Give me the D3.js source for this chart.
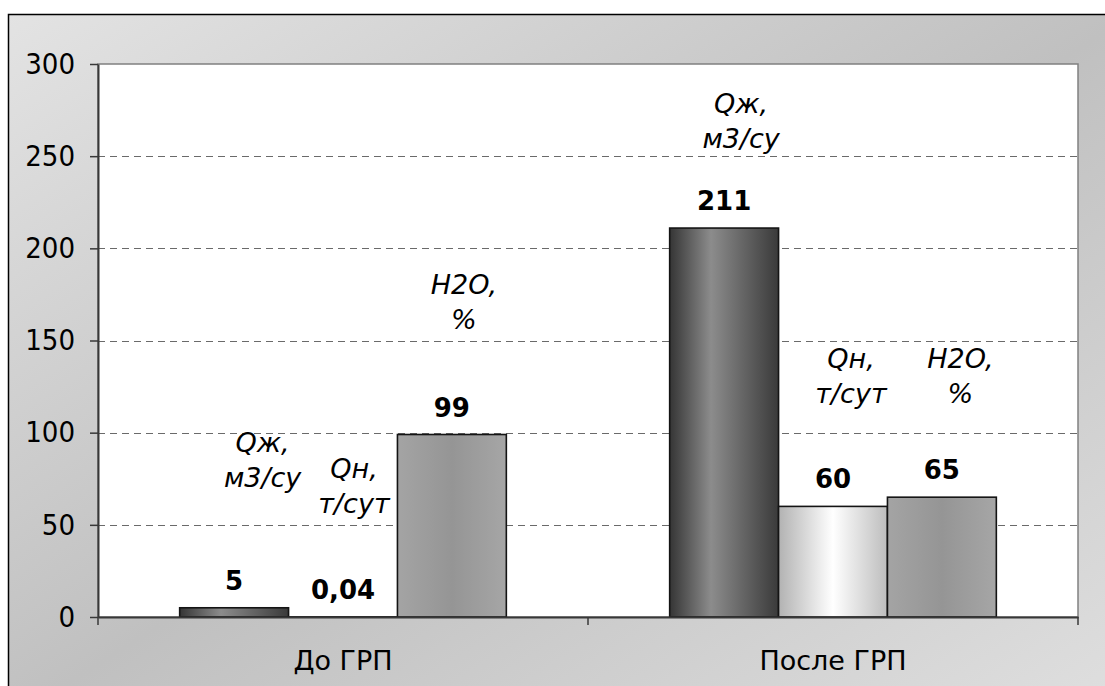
<!DOCTYPE html>
<html>
<head>
<meta charset="utf-8">
<script src="https://cdn.jsdelivr.net/npm/d3@7"></script>
<style>
  html, body { margin: 0; padding: 0; background: #ffffff; }
  svg { display: block; }
</style>
</head>
<body>
<svg id="chart" width="1105" height="686"></svg>
<script>
// Well production before and after hydraulic fracturing (ГРП)
const categories = ["До ГРП", "После ГРП"];
const seriesKeys = ["qLiquid", "qOil", "water"];
const seriesNames = [["Qж,", "м3/су"], ["Qн,", "т/сут"], ["H2O,", "%"]];
const qLiquid = [5, 211];   // Qж, м3/сут
const qOil = [0.04, 60];    // Qн, т/сут
const water = [99, 65];     // обводнённость, %
const yTicks = [0, 50, 100, 150, 200, 250, 300];

// Placement of the series-name labels relative to the top of each bar
// [dx from bar centre, dy of first baseline from bar top]
const nameLabelOffsets = [
  [[28.5, -156], [11, -139], [12, -141]],
  [[17, -115], [18, -138], [18.5, -129]]
];

const seriesValues = [qLiquid, qOil, water];
const rows = categories.map((c, i) => ({
  category: c,
  values: seriesKeys.map((k, s) => ({ key: k, s, i, value: seriesValues[s][i] }))
}));

const W = 1105, H = 686;
const plot = { left: 98, right: 1078, top: 64, bottom: 617 };

const svg = d3.select("#chart");
const defs = svg.append("defs");

// Chart-area background: diagonal light–dark–light grey fill
const bg = defs.append("linearGradient").attr("id", "bgGrad")
  .attr("x1", 0).attr("y1", 0).attr("x2", 1).attr("y2", 1);
bg.append("stop").attr("offset", 0).attr("stop-color", "#e3e3e3");
bg.append("stop").attr("offset", 0.5).attr("stop-color", "#c0c0c0");
bg.append("stop").attr("offset", 1).attr("stop-color", "#e0e0e0");

// Bar fills: shaded horizontally like cylinders
const barGradients = [
  [[0, "#353535"], [0.38, "#8c8c8c"], [1, "#3a3a3a"]],
  [[0, "#b2b2b2"], [0.5, "#ffffff"], [1, "#bdbdbd"]],
  [[0, "#a4a4a4"], [0.5, "#959595"], [1, "#a6a6a6"]]
];
barGradients.forEach((stops, s) => {
  const g = defs.append("linearGradient").attr("id", "bar" + s)
    .attr("x1", 0).attr("y1", 0).attr("x2", 1).attr("y2", 0);
  stops.forEach(([o, c]) => g.append("stop").attr("offset", o).attr("stop-color", c));
});

// Chart-area frame (runs off the right and bottom edges)
svg.append("rect")
  .attr("x", 8.5).attr("y", 14.5)
  .attr("width", W + 20).attr("height", H + 20)
  .attr("fill", "url(#bgGrad)")
  .attr("stroke", "#000").attr("stroke-width", 1.5);

// Scales
const y = d3.scaleLinear().domain([0, 300]).range([plot.bottom, plot.top]);
const x0 = d3.scaleBand().domain(categories).range([plot.left, plot.right]).padding(0);
const x1 = d3.scaleBand().domain(seriesKeys).range([0, x0.bandwidth()])
  .paddingInner(0).paddingOuter(0.75);

// Plot area
svg.append("rect")
  .attr("x", plot.left).attr("y", plot.top)
  .attr("width", plot.right - plot.left).attr("height", plot.bottom - plot.top)
  .attr("fill", "#ffffff")
  .attr("stroke", "#808080").attr("stroke-width", 1.5);

// Dashed gridlines
svg.append("g").selectAll("line")
  .data(yTicks.filter(t => t > 0 && t < 300))
  .join("line")
  .attr("x1", plot.left).attr("x2", plot.right)
  .attr("y1", d => Math.round(y(d)) + 0.5).attr("y2", d => Math.round(y(d)) + 0.5)
  .attr("stroke", "#6a6a6a").attr("stroke-width", 1)
  .attr("stroke-dasharray", "7,5");

// Bars
const groups = svg.append("g").selectAll("g")
  .data(rows)
  .join("g")
  .attr("transform", d => `translate(${x0(d.category)},0)`);

groups.selectAll("rect")
  .data(d => d.values)
  .join("rect")
  .attr("x", d => x1(d.key))
  .attr("y", d => y(d.value))
  .attr("width", x1.bandwidth())
  .attr("height", d => y(0) - y(d.value))
  .attr("fill", d => `url(#bar${d.s})`)
  .attr("stroke", "#141414").attr("stroke-width", 1.6);

// Value labels
const fmt = v => String(v).replace(".", ",");
groups.selectAll("text.value")
  .data(d => d.values)
  .join("text")
  .attr("class", "value")
  .attr("x", d => x1(d.key) + x1.bandwidth() / 2)
  .attr("y", d => y(d.value) - 18)
  .attr("text-anchor", "middle")
  .attr("font-family", "'DejaVu Sans', Verdana, sans-serif")
  .attr("font-weight", "bold")
  .attr("font-size", 26)
  .attr("fill", "#000")
  .text(d => fmt(d.value));

// Series-name labels (two lines, italic)
groups.selectAll("text.name")
  .data(d => d.values)
  .join("text")
  .attr("class", "name")
  .attr("text-anchor", "middle")
  .attr("font-family", "'DejaVu Sans', Verdana, sans-serif")
  .attr("font-style", "italic")
  .attr("font-size", 27)
  .attr("fill", "#000")
  .each(function (d) {
    const [dx, dy] = nameLabelOffsets[d.i][d.s];
    const cx = x1(d.key) + x1.bandwidth() / 2 + dx;
    const t = d3.select(this);
    seriesNames[d.s].forEach((line, k) => {
      t.append("tspan")
        .attr("x", cx)
        .attr("y", y(d.value) + dy + k * 35)
        .text(line);
    });
  });

// Y axis
const yAxis = svg.append("g")
  .attr("transform", `translate(${plot.left},0)`)
  .call(d3.axisLeft(y).tickValues(yTicks).tickSize(8).tickSizeOuter(0).tickPadding(15));
yAxis.select(".domain").attr("stroke", "#383838").attr("stroke-width", 2);
yAxis.selectAll(".tick line").attr("stroke", "#383838").attr("stroke-width", 1.5);
yAxis.selectAll(".tick text")
  .attr("font-family", "'DejaVu Sans Condensed', 'DejaVu Sans', sans-serif")
  .attr("font-stretch", "condensed")
  .attr("font-size", 29)
  .attr("fill", "#000");

// X axis: line, boundary ticks and category names
const xAxis = svg.append("g")
  .attr("transform", `translate(0,${plot.bottom})`)
  .call(d3.axisBottom(x0).tickSize(0).tickSizeOuter(0).tickPadding(34));
xAxis.select(".domain").attr("stroke", "#383838").attr("stroke-width", 2);
xAxis.selectAll(".tick text")
  .attr("font-family", "'DejaVu Sans', Verdana, sans-serif")
  .attr("font-size", 27)
  .attr("fill", "#000");

const bounds = categories.map(c => x0(c)).concat([x0.range()[1]]);
svg.append("g").selectAll("line")
  .data(bounds)
  .join("line")
  .attr("x1", d => d).attr("x2", d => d)
  .attr("y1", plot.bottom).attr("y2", plot.bottom + 8)
  .attr("stroke", "#383838").attr("stroke-width", 1.5);
</script>
</body>
</html>
